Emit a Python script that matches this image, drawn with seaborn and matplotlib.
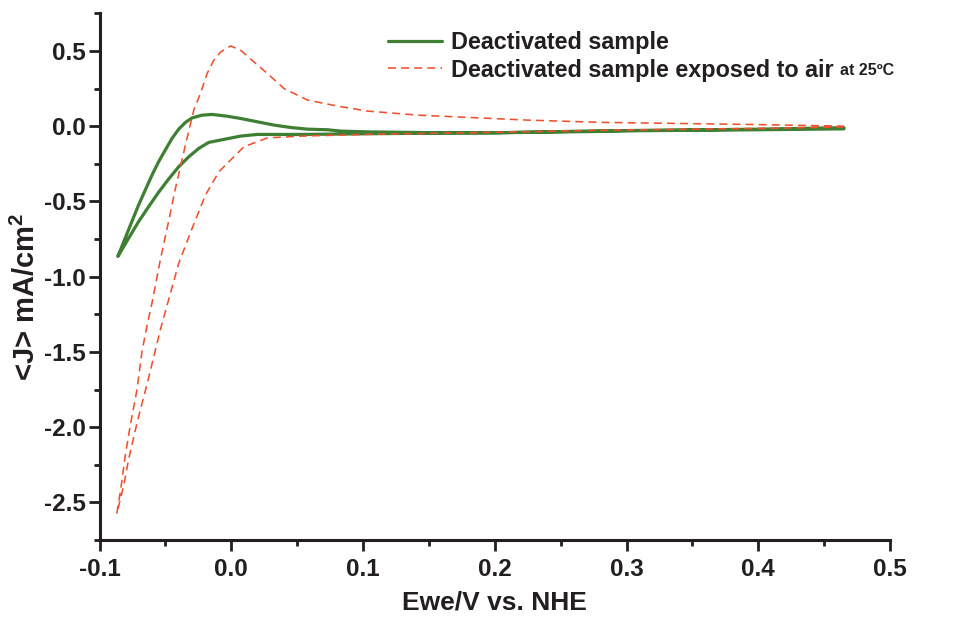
import matplotlib
matplotlib.use("Agg")
import matplotlib.pyplot as plt
import seaborn as sns
import pandas as pd
from matplotlib.ticker import MultipleLocator, FormatStrFormatter

# ---- data ----
green_x = [0.465, 0.40, 0.30, 0.28, 0.20, 0.15, 0.111, 0.075, 0.053, 0.0198, 0.0071,
           -0.0056, -0.0171, -0.0247, -0.0323, -0.0399, -0.0476, -0.0552, -0.0628,
           -0.0704, -0.0780, -0.0861,
           -0.0806, -0.0755, -0.0704, -0.0653, -0.0602, -0.0552, -0.0501, -0.0450,
           -0.0399, -0.0348, -0.0297, -0.0221, -0.0145, -0.0030, 0.0071, 0.0198,
           0.0325, 0.0452, 0.0580, 0.0732, 0.0833, 0.1037, 0.15, 0.20, 0.28, 0.40,
           0.465]
green_y = [-0.018, -0.024, -0.031, -0.035, -0.044, -0.047, -0.050, -0.053, -0.055, -0.055,
           -0.066, -0.088, -0.108, -0.148, -0.204, -0.270, -0.352, -0.440, -0.536,
           -0.635, -0.746, -0.866,
           -0.746, -0.635, -0.525, -0.425, -0.326, -0.237, -0.159, -0.082,
           -0.020, 0.025, 0.055, 0.073, 0.078, 0.066, 0.051, 0.029,
           0.007, -0.009, -0.020, -0.024, -0.033, -0.038, -0.043, -0.044, -0.031, -0.020,
           -0.010]

red_x = [0.465, 0.40, 0.2815, 0.182, 0.111, 0.053, 0.0274, 0.0096, -0.0094, -0.0196,
         -0.0297, -0.0399, -0.0476, -0.0539, -0.0628, -0.0716, -0.0780, -0.0818, -0.0869,
         -0.0836, -0.0806, -0.0768, -0.0716, -0.0678, -0.0636, -0.0602, -0.0539,
         -0.0476, -0.0424, -0.0348, -0.0285, -0.0234, -0.0183, -0.0133, -0.0081,
         -0.0005, 0.0071, 0.0172, 0.0274, 0.0400, 0.0580, 0.0808, 0.1037, 0.1418,
         0.18, 0.2256, 0.2815, 0.396, 0.465]
red_y = [-0.005, -0.015, -0.027, -0.044, -0.053, -0.066, -0.078, -0.137, -0.303, -0.458,
         -0.679, -0.912, -1.155, -1.355, -1.675, -1.974, -2.218, -2.395, -2.575,
         -2.395, -2.196, -1.996, -1.753, -1.499, -1.310, -1.177, -0.890,
         -0.635, -0.414, -0.126, 0.106, 0.217, 0.350, 0.438, 0.493,
         0.533, 0.505, 0.427, 0.350, 0.250, 0.173, 0.133, 0.100, 0.073,
         0.058, 0.040, 0.025, 0.011, 0.000]

series_labels = ["Deactivated sample", "Deactivated sample exposed to air"]
label_suffix = "at 25\u00baC"
x_ticks = [-0.1, 0.0, 0.1, 0.2, 0.3, 0.4, 0.5]
y_ticks = [-2.5, -2.0, -1.5, -1.0, -0.5, 0.0, 0.5]

# ---- style ----
sns.set_style("ticks")
plt.rcParams["font.family"] = ["Liberation Sans", "DejaVu Sans"]
plt.rcParams["font.weight"] = "bold"
plt.rcParams["axes.unicode_minus"] = False
plt.rcParams["mathtext.fontset"] = "custom"
plt.rcParams["mathtext.rm"] = "Liberation Sans:bold"
plt.rcParams["mathtext.bf"] = "Liberation Sans:bold"
plt.rcParams["mathtext.it"] = "Liberation Sans:bold"

INK = "#231f20"
fig = plt.figure(figsize=(9.69, 6.18), dpi=100)
ax = fig.add_axes([0.1027, 0.1262, 0.9185 - 0.1027, 0.9785 - 0.1262])

green_df = pd.DataFrame({"x": green_x, "y": green_y})
red_df = pd.DataFrame({"x": red_x, "y": red_y})

sns.lineplot(data=green_df, x="x", y="y", sort=False, estimator=None, ax=ax,
             color="#3f7f33", lw=2.3, label=series_labels[0])
sns.lineplot(data=red_df, x="x", y="y", sort=False, estimator=None, ax=ax,
             color="#f0502e", lw=1.15, label=series_labels[1])
ax.lines[1].set_dashes([5.0, 3.2])

ax.set_xlim(-0.1, 0.5)
ax.set_ylim(-2.75, 0.75)
ax.set_xticks(x_ticks)
ax.set_yticks(y_ticks)
ax.xaxis.set_minor_locator(MultipleLocator(0.05))
ax.yaxis.set_minor_locator(MultipleLocator(0.25))
ax.xaxis.set_major_formatter(FormatStrFormatter("%.1f"))
ax.yaxis.set_major_formatter(FormatStrFormatter("%.1f"))

for s in ["top", "right"]:
    ax.spines[s].set_visible(False)
for s in ["left", "bottom"]:
    ax.spines[s].set_linewidth(2.2)
    ax.spines[s].set_color(INK)

ax.tick_params(which="major", length=8, width=2, color=INK, labelsize=17.5,
               labelcolor=INK, pad=2)
ax.tick_params(which="minor", length=4.5, width=2, color=INK)
ax.tick_params(axis="x", which="major", pad=5)
for lab in ax.get_xticklabels() + ax.get_yticklabels():
    lab.set_fontweight("bold")

ax.set_xlabel("Ewe/V vs. NHE", fontsize=19, fontweight="bold", color=INK, labelpad=7)
ax.set_ylabel(r"<J> mA/cm$^2$", fontsize=21, fontweight="bold", color=INK, labelpad=2,
              y=0.462)

leg = ax.legend(loc="upper left", bbox_to_anchor=(388 / 969, 1 - 31 / 618),
                bbox_transform=fig.transFigure, frameon=False,
                prop={"family": "Liberation Sans", "weight": "bold", "size": 16.8},
                handlelength=2.3, handletextpad=0.4, labelspacing=0.2,
                borderaxespad=0, borderpad=0)
for t in leg.get_texts():
    t.set_color(INK)

fig.canvas.draw()
bb = leg.get_texts()[1].get_window_extent()
inv = fig.transFigure.inverted()
x1, y0 = inv.transform((bb.x1, bb.y0))
fig.text(x1 + 6 / 969, y0 + 4 / 618, label_suffix, fontsize=11.5, fontweight="bold",
         color=INK, ha="left", va="bottom")

fig.savefig("out.png", dpi=100)
